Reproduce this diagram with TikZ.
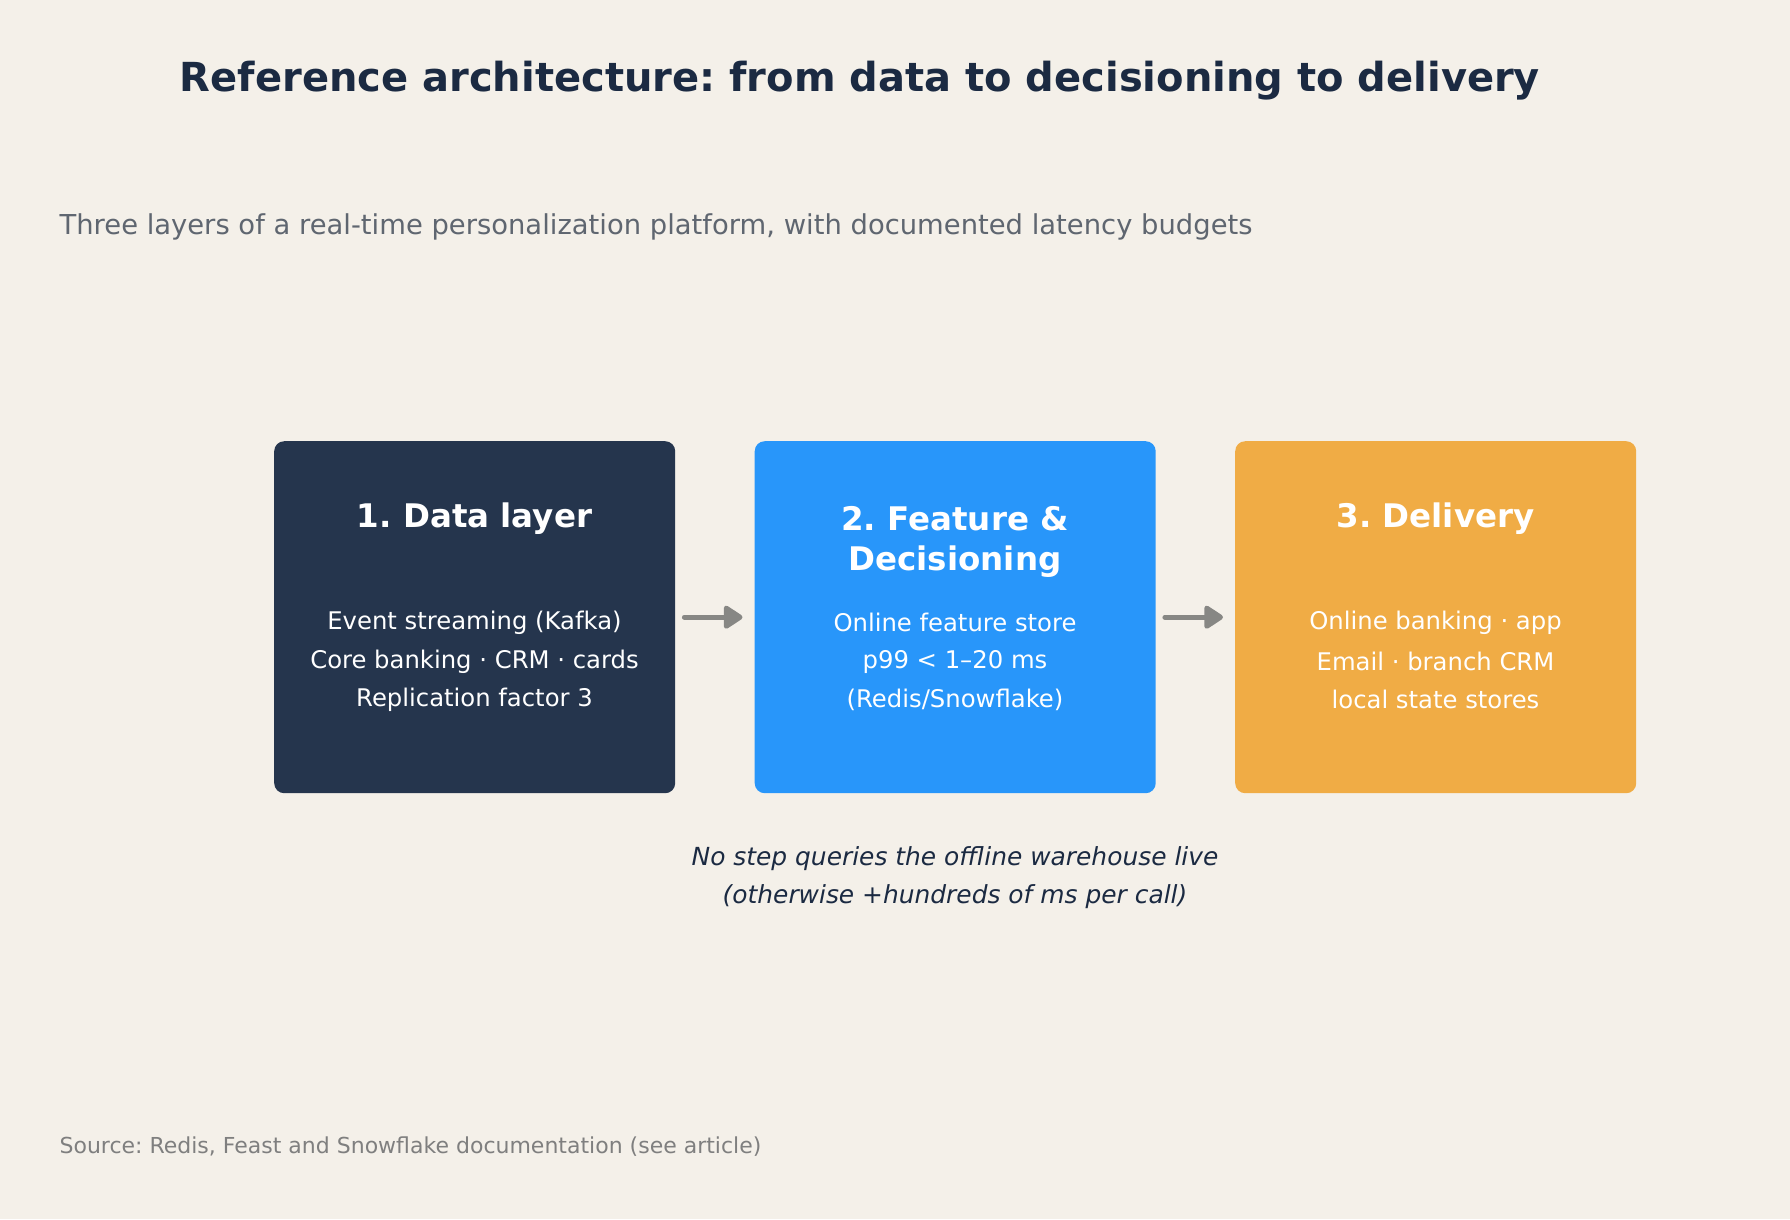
\documentclass[tikz,border=0pt]{standalone}
\usepackage{fontspec}
\setmainfont{DejaVu Sans}
\frenchspacing
\usetikzlibrary{arrows.meta}
\definecolor{bg}{HTML}{F4F0E9}
\definecolor{navy}{HTML}{25354D}
\definecolor{blue}{HTML}{2896FA}
\definecolor{amber}{HTML}{F0AC45}
\definecolor{titlec}{HTML}{1B2A42}
\definecolor{subc}{HTML}{5F6670}
\definecolor{arrowc}{HTML}{878784}
\definecolor{srcc}{HTML}{7F7F7F}
\tikzset{
  layerbox/.style={draw=none, rounded corners=10pt, minimum width=401pt, minimum height=352pt, inner sep=0pt},
  boxtitle/.style={anchor=base, text=white, font=\fontsize{32.5}{38}\selectfont\bfseries, inner sep=0pt},
  boxbody/.style={anchor=base, text=white, font=\fontsize{24.3}{28}\selectfont, inner sep=0pt},
  flow/.style={draw=arrowc, line width=5pt, line cap=round, -{Triangle[length=21pt,width=26pt,round]}, shorten <=9pt, shorten >=12pt},
}
\begin{document}
\begin{tikzpicture}[x=1pt,y=-1pt]
\fill[bg] (0,0) rectangle (1790,1219);
\useasboundingbox (0,0) rectangle (1790,1219);
\node[anchor=base, text=titlec, font=\fontsize{40}{48}\selectfont\bfseries, inner sep=0pt] (title) at (860,91.5) {Reference architecture: from data to decisioning to delivery};
\node[anchor=base west, text=subc, font=\fontsize{27.4}{32}\selectfont, inner sep=0pt] (sub) at (59.4,234) {Three layers of a real-time personalization platform, with documented latency budgets};
\node[layerbox, fill=navy, anchor=north west] (b1) at (274,441) {};
\node[layerbox, fill=blue, anchor=north west] (b2) at (754.5,441) {};
\node[layerbox, fill=amber, anchor=north west] (b3) at (1235,441) {};
\draw[flow] (b1.east) -- (b2.west);
\draw[flow] (b2.east) -- (b3.west);
\node[boxtitle] (t1) at (474.5,527) {1. Data layer};
\node[boxbody] (l11) at (474.5,629.5) {Event streaming (Kafka)};
\node[boxbody] (l12) at (474.5,668.5) {Core banking · CRM · cards};
\node[boxbody] (l13) at (474.5,706) {Replication factor 3};
\node[boxtitle] (t2a) at (955,530) {2. Feature \&};
\node[boxtitle] (t2b) at (955,570) {Decisioning};
\node[boxbody] (l21) at (955,631.5) {Online feature store};
\node[boxbody] (l22) at (955,668.5) {p99 < 1–20 ms};
\node[boxbody] (l23) at (955,707.5) {(Redis/Snowflake)};
\node[boxtitle] (t3) at (1435.5,527) {3. Delivery};
\node[boxbody] (l31) at (1435.5,629.5) {Online banking · app};
\node[boxbody] (l32) at (1435.5,670.5) {Email · branch CRM};
\node[boxbody] (l33) at (1435.5,708.5) {local state stores};
\node[anchor=base, text=titlec, font=\fontsize{24.9}{29}\selectfont\itshape, inner sep=0pt] (n1) at (955,865.5) {No step queries the offline warehouse live};
\node[anchor=base, text=titlec, font=\fontsize{24.9}{29}\selectfont\itshape, inner sep=0pt] (n2) at (955,903.5) {(otherwise +hundreds of ms per call)};
\node[anchor=base west, text=srcc, font=\fontsize{22}{26}\selectfont, inner sep=0pt] (src) at (59.4,1153) {Source: Redis, Feast and Snowflake documentation (see article)};
\end{tikzpicture}
\end{document}
